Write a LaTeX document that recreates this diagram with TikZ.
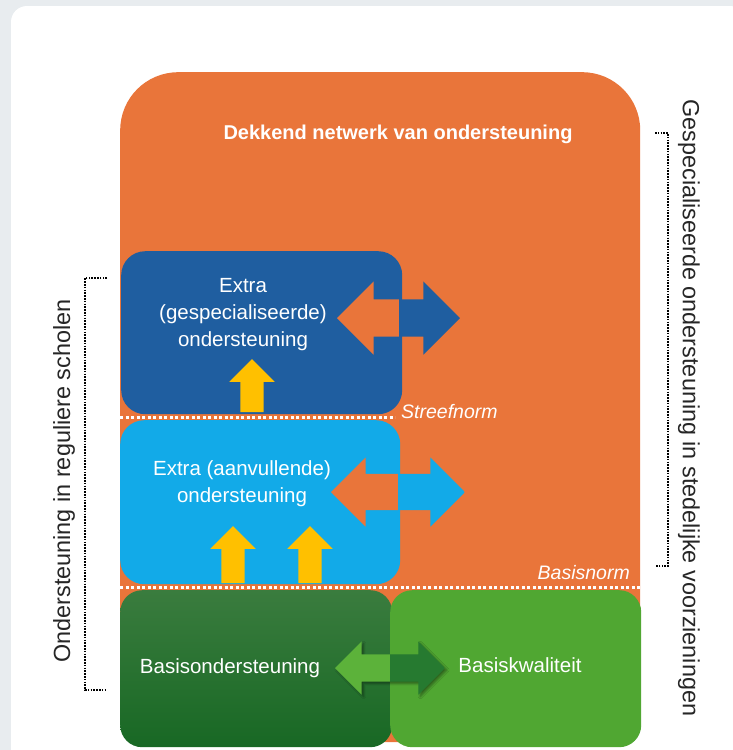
\documentclass[tikz,border=0pt]{standalone}
\usepackage{fontspec}
\setmainfont{Liberation Sans}
\usepackage{tikz}
\usetikzlibrary{positioning,shapes,shapes.arrows,shadows.blur}

\definecolor{pagegray}{RGB}{232,236,239}
\definecolor{netorange}{RGB}{233,117,58}
\definecolor{specblue}{RGB}{31,94,160}
\definecolor{extrablue}{RGB}{18,170,232}
\definecolor{basisgreentop}{RGB}{58,124,62}
\definecolor{basisgreen}{RGB}{24,104,36}
\definecolor{kwaligreen}{RGB}{80,167,50}
\definecolor{pijlgreenlight}{RGB}{92,178,58}
\definecolor{pijlgreendark}{RGB}{38,122,48}
\definecolor{upyellow}{RGB}{255,192,0}

\begin{document}
\begin{tikzpicture}[x=1pt, y=-1pt,
        box/.style={rectangle, anchor=north west, inner sep=0pt, rounded corners=24pt},
        boxtext/.style={text=white, align=center, font=\fontsize{20.5}{27}\selectfont},
        normline/.style={white, line width=3pt, dash pattern=on 3pt off 2.5pt},
        normtext/.style={text=white, inner sep=0pt, font=\fontsize{19.5}{22}\selectfont\itshape},
        bracket/.style={black, line width=1.6pt, dash pattern=on 1.6pt off 1.2pt},
        sidetext/.style={text=black!85, font=\fontsize{23.4}{28}\selectfont},
        uparrow/.style={single arrow, fill=upyellow, inner sep=11.5pt, minimum width=45pt,
            single arrow head extend=11pt, shape border rotate=90},
        splitarrow/.style 2 args={double arrow, inner xsep=0pt,
            path picture={
                \fill[#1] (path picture bounding box.south west) rectangle (path picture bounding box.north);
                \fill[#2] (path picture bounding box.south) rectangle (path picture bounding box.north east);
            }},
    ]
        \useasboundingbox (0,0) rectangle (733,750);
        \clip (0,0) rectangle (733,750);
        \fill[pagegray] (0,0) rectangle (733,750);
        \fill[white, rounded corners=16pt] (11,6) rectangle (746,800);

        % orange network
        \node[box, fill=netorange, rounded corners=58pt, minimum width=520pt, minimum height=670pt] (netwerk) at (120,72) {};
        \node[text=white, font=\fontsize{20}{24}\selectfont\bfseries] (netwerktitel) at (398,134) {Dekkend netwerk van ondersteuning};

        % support levels
        \node[box, fill=specblue, minimum width=281pt, minimum height=163pt] (gespec) at (121,251) {};
        \node[boxtext] (gespectekst) at (243,315) {Extra\\(gespecialiseerde)\\ondersteuning};
        \node[box, fill=extrablue, minimum width=280pt, minimum height=164pt] (aanvul) at (120,420) {};
        \node[boxtext] (aanvultekst) at (242,484) {Extra (aanvullende)\\ondersteuning};
        \node[box, top color=basisgreentop, bottom color=basisgreen, rounded corners=22pt, minimum width=272pt, minimum height=157pt] (basisonder) at (120,590) {};
        \node[box, fill=kwaligreen, rounded corners=22pt, minimum width=251pt, minimum height=157pt] (basiskwal) at (390,590) {};
        \node[boxtext] (basisondertekst) at (230,668) {Basisondersteuning};
        \node[boxtext] (basiskwaltekst) at (520,665) {Basiskwaliteit};

        % arrows
        \node[splitarrow={netorange}{specblue}, inner ysep=18.5pt, minimum height=123pt, minimum width=73pt, double arrow head extend=18pt] (gespecpijl) at (398.5,318) {};
        \node[splitarrow={netorange}{extrablue}, inner ysep=18pt, minimum height=134pt, minimum width=69pt, double arrow head extend=16.5pt] (aanvulpijl) at (398,492) {};
        \node[splitarrow={pijlgreenlight}{pijlgreendark}, inner ysep=13.5pt, minimum height=110pt, minimum width=53pt, double arrow head extend=13pt,
            blur shadow={shadow xshift=2pt, shadow yshift=-2pt, shadow blur steps=6}] (basispijl) at (390,668) {};
        \node[uparrow, minimum height=53pt] (oppijl1) at (252,391.5) {};
        \node[uparrow, minimum height=57pt] (oppijl2) at (233,560.5) {};
        \node[uparrow, minimum height=57pt] (oppijl3) at (310,560.5) {};

        % norms
        \coordinate (streefL) at (120,417);
        \coordinate (streefR) at (395,417);
        \coordinate (basisL) at (120,587);
        \coordinate (basisR) at (640,587);
        \draw[normline] (streefL) -- (streefR);
        \draw[normline] (basisL) -- (basisR);
        \node[normtext, anchor=base west] (streefnorm) at (401,418) {Streefnorm};
        \node[normtext, anchor=base east] (basisnorm) at (630,579) {Basisnorm};

        % brackets
        \coordinate (ltop) at (107,278);
        \coordinate (lbot) at (107,690);
        \coordinate (rtop) at (655,133);
        \coordinate (rbot) at (655,566);
        \draw[bracket] (ltop) -- ++(-22,0) |- (lbot);
        \draw[bracket] (rtop) -- ++(13,0) |- (rbot);
        \node[sidetext, rotate=90] (regulier) at (64,481) {Ondersteuning in reguliere scholen};
        \node[sidetext, rotate=-90] (stedelijk) at (689,408) {Gespecialiseerde ondersteuning in stedelijke voorzieningen};
\end{tikzpicture}
\end{document}
